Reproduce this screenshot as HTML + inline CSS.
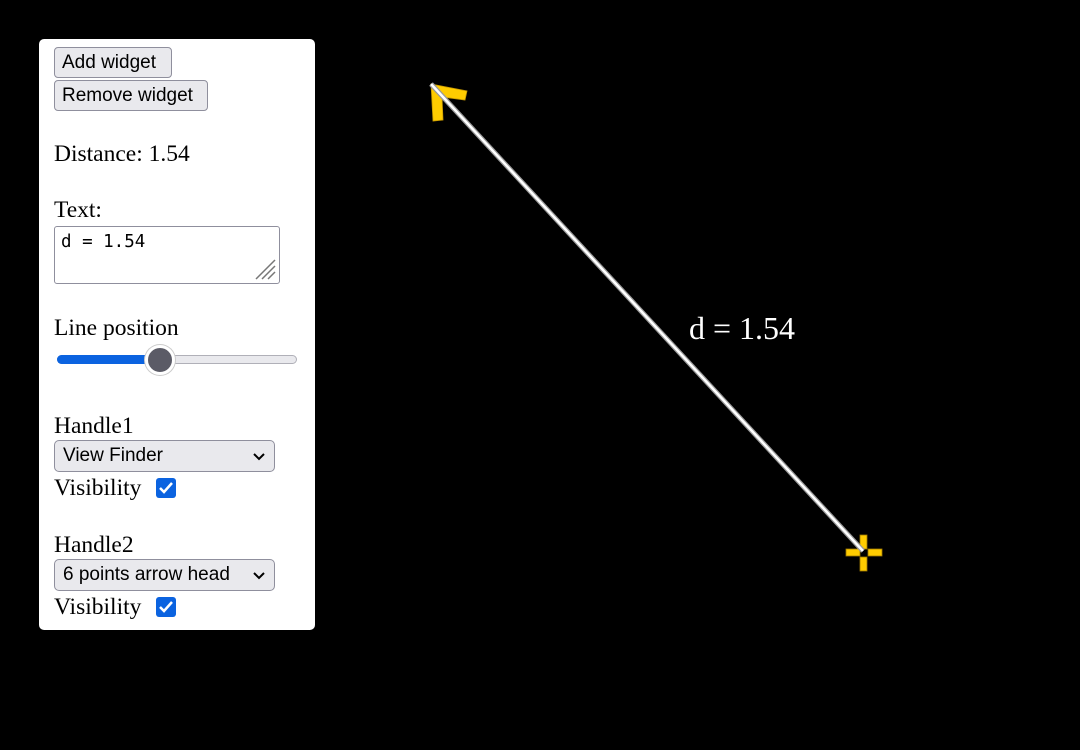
<!DOCTYPE html>
<html><head><meta charset="utf-8"><style>
html,body{margin:0;padding:0;background:#000;width:1080px;height:750px;overflow:hidden;font-family:"Liberation Serif",serif;}
.panel{position:absolute;left:39px;top:39px;width:276px;height:591px;background:#fff;border-radius:5px;}
.abs{position:absolute;}
.btn{position:absolute;left:15px;height:31px;background:#e9e9ed;border:1px solid #8f8f9d;border-radius:4px;box-sizing:border-box;font-family:"Liberation Sans",sans-serif;font-size:19px;line-height:29px;padding:0 7px;color:#000;white-space:nowrap;}
.lbl{position:absolute;left:15px;font-size:23.5px;color:#000;line-height:26px;white-space:nowrap;}
.sel{position:absolute;left:15px;width:221px;height:32px;background:#e9e9ed;border:1px solid #8f8f9d;border-radius:5px;box-sizing:border-box;font-family:"Liberation Sans",sans-serif;font-size:19px;line-height:30px;padding-left:8px;white-space:nowrap;}
.chev{position:absolute;right:8px;top:11px;}
.cb{position:absolute;width:20px;height:20px;background:#0b63e0;border-radius:3px;}
</style></head><body>
<div class="panel">
  <div class="btn" style="top:8px;width:118px">Add widget</div>
  <div class="btn" style="top:41px;width:154px">Remove widget</div>
  <div class="lbl" style="top:102px">Distance: 1.54</div>
  <div class="lbl" style="top:158px">Text:</div>
  <div class="abs" style="left:15px;top:187px;width:226px;height:58px;border:1px solid #8f8f9d;border-radius:3px;box-sizing:border-box;font-family:'DejaVu Sans Mono','Liberation Mono',monospace;font-size:17.5px;padding:6px 6px;line-height:18px;white-space:pre">d = 1.54<svg class="abs" style="right:3px;bottom:3px" width="22" height="22"><g stroke="#777" stroke-width="1.5"><line x1="2" y1="21" x2="21" y2="2"/><line x1="8" y1="21" x2="21" y2="8"/><line x1="14" y1="21" x2="21" y2="14"/></g></svg></div>
  <div class="lbl" style="top:276px">Line position</div>
  <div class="abs" style="left:18px;top:316px;width:240px;height:9px;background:#e9e9ed;border:1px solid #b0b0b8;border-radius:5px;box-sizing:border-box"></div>
  <div class="abs" style="left:18px;top:316px;width:106px;height:9px;background:#0b63e0;border-radius:5px"></div>
  <div class="abs" style="left:106px;top:306px;width:30px;height:30px;background:#5b5b66;border:3px solid #fff;border-radius:50%;box-sizing:border-box;box-shadow:0 0 0 1px #ccc"></div>
  <div class="lbl" style="top:374px">Handle1</div>
  <div class="sel" style="top:401px">View Finder<svg class="chev" width="14" height="10"><polyline points="2,2 7,7 12,2" fill="none" stroke="#000" stroke-width="2"/></svg></div>
  <div class="lbl" style="top:436px">Visibility</div>
  <div class="cb" style="left:117px;top:439px"><svg width="20" height="20"><polyline points="4,10 8,14 16,5" fill="none" stroke="#fff" stroke-width="2.5"/></svg></div>
  <div class="lbl" style="top:493px">Handle2</div>
  <div class="sel" style="top:520px">6 points arrow head<svg class="chev" width="14" height="10"><polyline points="2,2 7,7 12,2" fill="none" stroke="#000" stroke-width="2"/></svg></div>
  <div class="lbl" style="top:555px">Visibility</div>
  <div class="cb" style="left:117px;top:558px"><svg width="20" height="20"><polyline points="4,10 8,14 16,5" fill="none" stroke="#fff" stroke-width="2.5"/></svg></div>
</div>
<svg class="abs" style="left:0;top:0" width="1080" height="750">
  <polygon points="431,84 467,91 465,100 442,97 443,120 433,121" fill="#ffcc00" stroke="#c89a00" stroke-width="0.8"/>
  <g fill="#ffcc00" stroke="#a07a00" stroke-width="0.8">
    <rect x="860" y="535" width="7" height="14"/><rect x="860" y="557" width="7" height="14"/>
    <rect x="846" y="549" width="14" height="7"/><rect x="868" y="549" width="14" height="7"/>
  </g>
  <line x1="431" y1="84" x2="863" y2="551" stroke="#999" stroke-width="5"/>
  <line x1="431" y1="84" x2="863" y2="551" stroke="#fff" stroke-width="2.5"/>
  <text x="689" y="339" fill="#fff" font-family="Liberation Serif,serif" font-size="32">d = 1.54</text>
</svg>
</body></html>
